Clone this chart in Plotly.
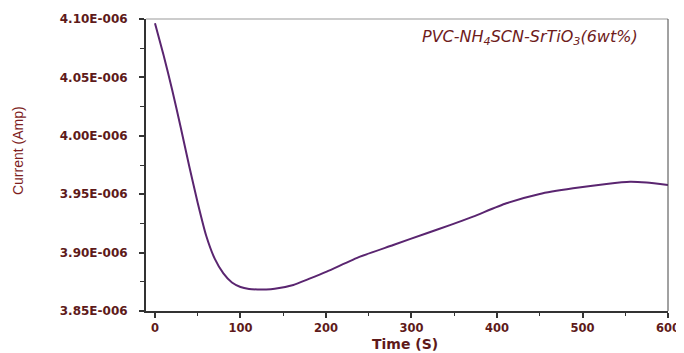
import plotly.graph_objects as go

# Data
time_s = [0, 10, 20, 30, 40, 50, 60, 70, 80, 90, 100, 110, 120, 130, 140, 161.8,
          180, 200.8, 239.8, 278.7, 317.8, 345, 372, 411, 450, 489, 528, 555.6,
          575, 600]
current_amp = [4.0963e-6, 4.0692e-6, 4.0397e-6, 4.0076e-6, 3.9742e-6, 3.9425e-6,
               3.9142e-6, 3.8946e-6, 3.8822e-6, 3.8744e-6, 3.8706e-6, 3.8689e-6,
               3.8684e-6, 3.8684e-6, 3.8690e-6, 3.8723e-6, 3.8775e-6, 3.8837e-6,
               3.8965e-6, 3.9065e-6, 3.9166e-6, 3.9235e-6, 3.9308e-6, 3.9422e-6,
               3.9502e-6, 3.9550e-6, 3.9588e-6, 3.9607e-6, 3.9600e-6, 3.9579e-6]

y_tick_vals = [3.85e-6, 3.90e-6, 3.95e-6, 4.00e-6, 4.05e-6, 4.10e-6]
y_tick_text = ["3.85E-006", "3.90E-006", "3.95E-006", "4.00E-006", "4.05E-006", "4.10E-006"]
x_tick_vals = [0, 100, 200, 300, 400, 500, 600]
x_tick_text = ["0", "100", "200", "300", "400", "500", "600"]

label_color = "#5e1a1a"
title_color = "#7e1e1e"
axis_color = "#333333"

fig = go.Figure()
fig.add_trace(go.Scatter(
    x=time_s, y=current_amp, mode="lines",
    line=dict(color="#5a2570", width=2, shape="spline", smoothing=0.6),
    showlegend=False,
))

fig.update_layout(
    width=676, height=345,
    margin=dict(l=138, r=16, t=11, b=42, autoexpand=False),
    paper_bgcolor="white", plot_bgcolor="white",
    font=dict(family="DejaVu Sans", color=label_color),
    xaxis=dict(
        range=[-10.5, 600], tickvals=x_tick_vals, ticktext=x_tick_text,
        showgrid=False, zeroline=False, automargin=False,
        showline=True, linecolor=axis_color, linewidth=2,
        ticks="outside", ticklen=5, tickwidth=1.5, tickcolor=axis_color,
        tickfont=dict(family="DejaVu Sans", size=11.5, color=label_color, weight="bold"),
        minor=dict(dtick=50, tick0=0, ticks="outside", ticklen=3, tickwidth=1.2,
                   tickcolor=axis_color, showgrid=False),
    ),
    yaxis=dict(
        range=[3.85e-6, 4.10e-6], tickvals=y_tick_vals, ticktext=y_tick_text,
        showgrid=False, zeroline=False, automargin=False,
        showline=True, linecolor=axis_color, linewidth=2,
        ticks="outside", ticklen=5, tickwidth=1.5, tickcolor=axis_color,
        ticklabelstandoff=9,
        tickfont=dict(family="DejaVu Sans", size=12, color=label_color, weight="bold"),
        minor=dict(dtick=0.025e-6, tick0=3.85e-6, ticks="outside", ticklen=4,
                   tickwidth=1.2, tickcolor=axis_color, showgrid=False),
    ),
    shapes=[
        dict(type="line", xref="paper", yref="paper", x0=0, x1=1, y0=1, y1=1,
             line=dict(color="#bbbbbb", width=1.5)),
        dict(type="line", xref="paper", yref="paper", x0=1, x1=1, y0=0, y1=1,
             line=dict(color="#444444", width=1)),
    ],
    annotations=[
        dict(text="PVC-NH<sub>4</sub>SCN-SrTiO<sub>3</sub>(6wt%)",
             xref="paper", yref="paper", x=0.946, y=0.935,
             xanchor="right", yanchor="middle", showarrow=False,
             font=dict(family="DejaVu Sans", size=16, color="#6e1c1c", style="italic")),
        dict(text="Current (Amp)", xref="paper", yref="paper",
             x=-0.245, y=0.548, xanchor="center", yanchor="middle",
             textangle=-90, showarrow=False,
             font=dict(family="Liberation Sans", size=14, color=title_color)),
        dict(text="Time (S)", xref="paper", yref="paper",
             x=0.496, y=-0.114, xanchor="center", yanchor="middle", showarrow=False,
             font=dict(family="DejaVu Sans", size=14, color=label_color, weight="bold")),
    ],
)

fig.write_html("out.html")
